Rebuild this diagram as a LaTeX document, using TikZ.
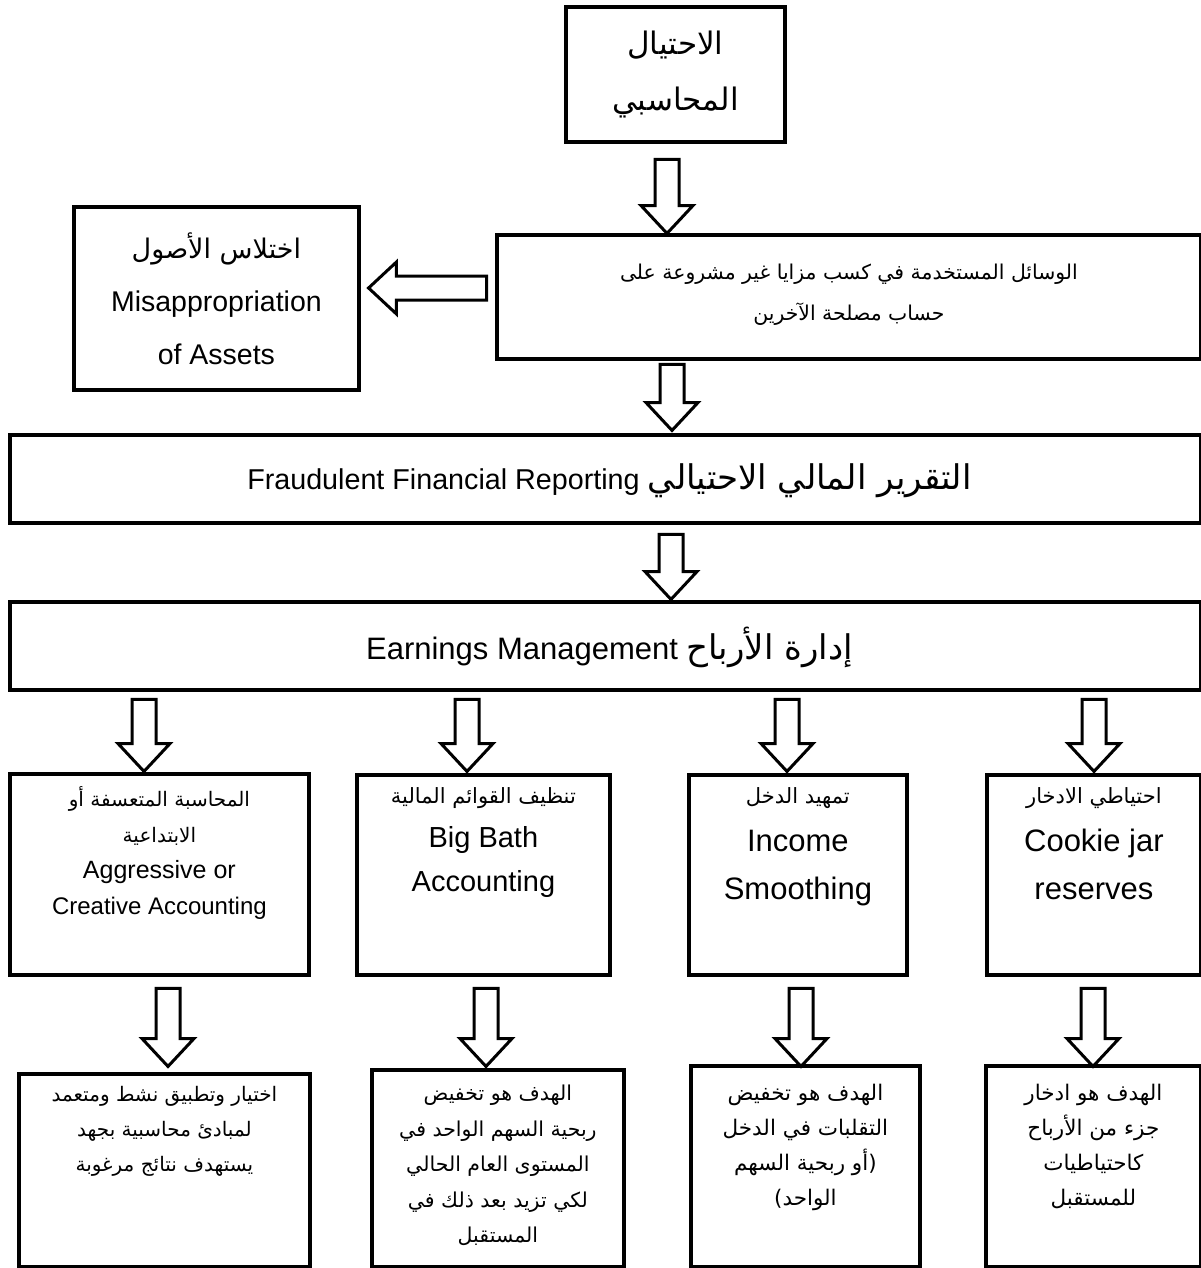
\documentclass[tikz,border=0pt]{standalone}
\usepackage{fontspec}
\setmainfont{Liberation Sans}
\newfontfamily\arfont[Script=Arabic]{DejaVu Sans}
\TeXXeTstate=1
\newcommand\AR[1]{{\arfont\beginR #1\endR}}
\usetikzlibrary{shapes.arrows,calc}
\begin{document}
\begin{tikzpicture}[x=1pt,y=-1pt,
  box/.style={draw, line width=3.8pt, rectangle, inner sep=0pt, anchor=north west},
  txt/.style={align=center, inner sep=0pt},
  blk/.style={single arrow, draw, line width=3pt, inner xsep=0pt, inner ysep=10.5pt,
    single arrow head extend=14pt, single arrow tip angle=86, minimum width=1pt},
  downarr/.style={blk, rotate=-90},
  leftarr/.style={blk, rotate=180},
]
\useasboundingbox[fill=white] (0,0) rectangle (1201,1268);

% ---- boxes
\node[box, minimum width=219pt, minimum height=135pt] (top) at (564,5) {};
\node[box, minimum width=285pt, minimum height=183pt] (misap) at (72,205) {};
\node[box, minimum width=704pt, minimum height=124pt] (means) at (495,233) {};
\node[box, minimum width=1191pt, minimum height=88pt] (ffr) at (8,433) {};
\node[box, minimum width=1191pt, minimum height=88pt] (em) at (8,600) {};

\node[box, minimum width=299pt, minimum height=201pt] (cA) at (8,772) {};
\node[box, minimum width=253pt, minimum height=200pt] (cB) at (355,773) {};
\node[box, minimum width=218pt, minimum height=200pt] (cC) at (687,773) {};
\node[box, minimum width=214pt, minimum height=200pt] (cD) at (985,773) {};

\node[box, minimum width=291pt, minimum height=193pt] (gA) at (17,1072) {};
\node[box, minimum width=252pt, minimum height=197pt] (gB) at (370,1068) {};
\node[box, minimum width=229pt, minimum height=201pt] (gC) at (689,1064) {};
\node[box, minimum width=215pt, minimum height=201pt] (gD) at (984,1064) {};

% ---- texts
\node[txt, font=\fontsize{31}{56}\selectfont] (ttop) at (top.center)
  {\AR{الاحتيال}\\\AR{المحاسبي}};
\node[txt, font=\fontsize{28.5}{53}\selectfont] (tmisap) at (misap.center)
  {{\fontsize{27}{53}\selectfont\AR{اختلاس الأصول}}\\Misappropriation\\of Assets};
\node[txt, font=\fontsize{20.4}{41}\selectfont] (tmeans) at ($(means.center)+(0,-2)$)
  {\AR{الوسائل المستخدمة في كسب مزايا غير مشروعة على}\\\AR{حساب مصلحة الآخرين}};
\node[txt, font=\fontsize{28.7}{34}\selectfont] (tffr) at ($(ffr.center)+(4,2)$)
  {Fraudulent Financial Reporting {\fontsize{34}{34}\selectfont\AR{التقرير المالي الاحتيالي}}};
\node[txt, font=\fontsize{31}{34}\selectfont] (tem) at ($(em.center)+(4,2)$)
  {Earnings Management {\fontsize{34}{34}\selectfont\AR{إدارة الأرباح}}};

\node[txt, anchor=north, font=\fontsize{20}{36}\selectfont] (tcA) at ($(cA.north)+(0,14)$)
  {\AR{المحاسبة المتعسفة أو}\\\AR{الابتداعية}\\{\fontsize{25}{36}\selectfont Aggressive or}\\{\fontsize{24}{36}\selectfont Creative Accounting}};
\node[txt, anchor=north, font=\fontsize{21}{44}\selectfont] (tcB) at ($(cB.north)+(0,14)$)
  {\AR{تنظيف القوائم المالية}\\{\fontsize{29}{44}\selectfont Big Bath}\\{\fontsize{29}{42}\selectfont Accounting}};
\node[txt, anchor=north, font=\fontsize{21}{48}\selectfont] (tcC) at ($(cC.north)+(0,14)$)
  {\AR{تمهيد الدخل}\\{\fontsize{31}{48}\selectfont Income}\\{\fontsize{31}{43}\selectfont Smoothing}};
\node[txt, anchor=north, font=\fontsize{21}{48}\selectfont] (tcD) at ($(cD.north)+(0,14)$)
  {\AR{احتياطي الادخار}\\{\fontsize{31}{48}\selectfont Cookie jar}\\{\fontsize{31}{43}\selectfont reserves}};

\node[txt, anchor=north, font=\fontsize{20}{35}\selectfont] (tgA) at ($(gA.north)+(0,14)$)
  {\AR{اختيار وتطبيق نشط ومتعمد}\\\AR{لمبادئ محاسبية بجهد}\\\AR{يستهدف نتائج مرغوبة}};
\node[txt, anchor=north, font=\fontsize{20.5}{35.5}\selectfont] (tgB) at ($(gB.north)+(0,17)$)
  {\AR{الهدف هو تخفيض}\\\AR{ربحية السهم الواحد في}\\\AR{المستوى العام الحالي}\\\AR{لكي تزيد بعد ذلك في}\\\AR{المستقبل}};
\node[txt, anchor=north, font=\fontsize{21.5}{35}\selectfont] (tgC) at ($(gC.north)+(0,20)$)
  {\AR{الهدف هو تخفيض}\\\AR{التقلبات في الدخل}\\\AR{(أو ربحية السهم}\\\AR{الواحد)}};
\node[txt, anchor=north, font=\fontsize{21.5}{35}\selectfont] (tgD) at ($(gD.north)+(0,20)$)
  {\AR{الهدف هو ادخار}\\\AR{جزء من الأرباح}\\\AR{كاحتياطيات}\\\AR{للمستقبل}};

% ---- block arrows
\node[downarr, minimum height=74pt] (a1) at (667,190) {};
\node[leftarr, minimum height=118pt] (a2) at (434,288) {};
\node[downarr, minimum height=66pt] (a3) at (672,391) {};
\node[downarr, minimum height=65pt] (a4) at (671,560.5) {};

\node[downarr, minimum height=72pt] (a5) at (144,729) {};
\node[downarr, minimum height=72pt] (a6) at (467,729) {};
\node[downarr, minimum height=72pt] (a7) at (787,729) {};
\node[downarr, minimum height=72pt] (a8) at (1094,729) {};

\node[downarr, minimum height=78pt] (a9) at (168,1021) {};
\node[downarr, minimum height=78pt] (a10) at (486,1021) {};
\node[downarr, minimum height=78pt] (a11) at (801,1021) {};
\node[downarr, minimum height=78pt] (a12) at (1093,1021) {};
\end{tikzpicture}
\end{document}
